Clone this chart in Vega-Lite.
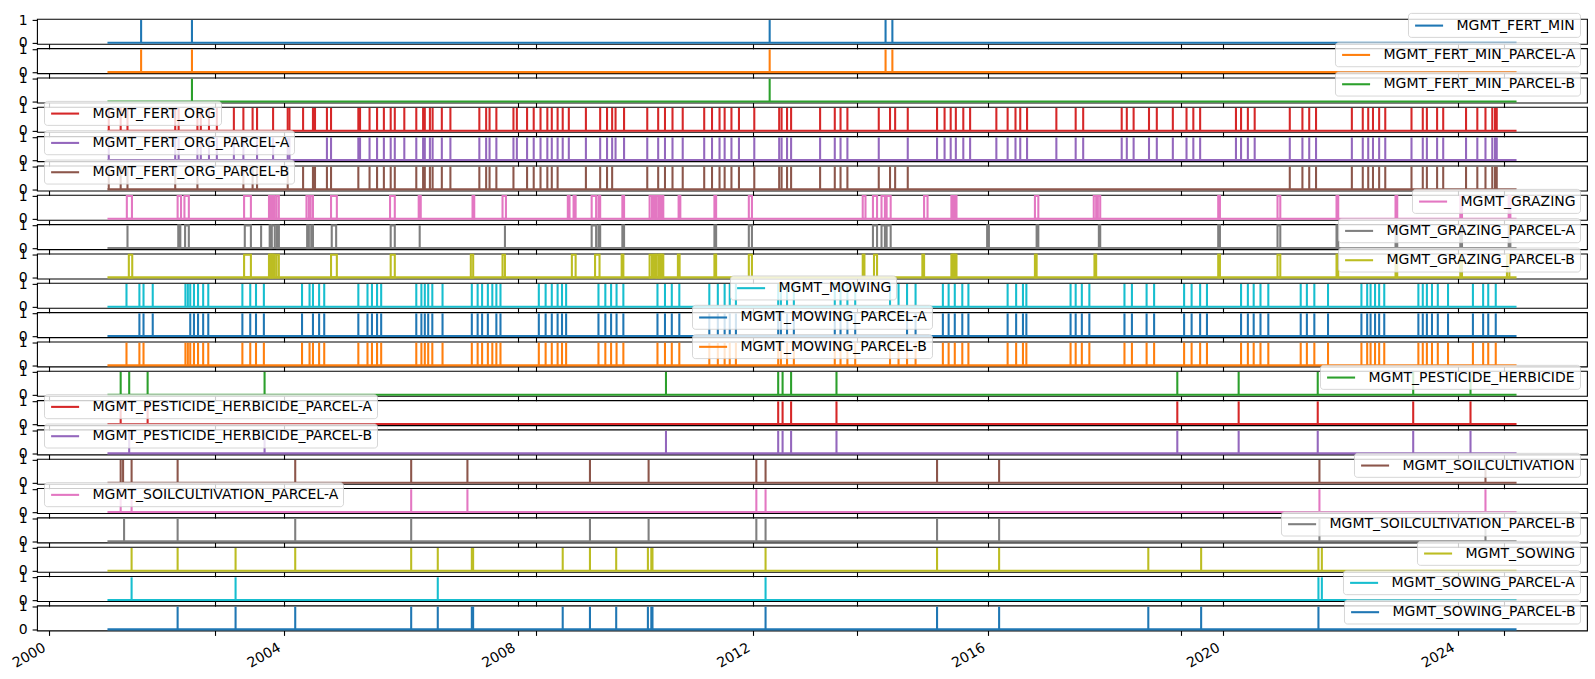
{
"$schema":"https://vega.github.io/schema/vega-lite/v6.json",
"background":"white",
"padding":{"left":9,"top":10.9,"right":8,"bottom":4},
"config":{"font":"DejaVu Sans","view":{"stroke":"black","strokeWidth":1.1},
"axis":{"domain":false,"grid":false,"tickColor":"black","tickWidth":1.1,"tickSize":4.9,"labelFont":"DejaVu Sans","labelFontSize":14,"labelColor":"black","labelPadding":4.9,"labelFlush":false,"labelOverlap":false,"labelBound":false},
"legend":{"symbolType":"M-2,0H2","symbolStrokeWidth":2.08,"symbolSize":196,"symbolOffset":8.4,"labelFont":"DejaVu Sans","labelFontSize":14,"labelColor":"black","labelLimit":0,"labelOffset":18.9,"padding":4.2,"fillColor":"rgba(255,255,255,0.8)","strokeColor":"rgba(204,204,204,0.8)","cornerRadius":3,"offset":7.4}},
"datasets":{
"d01":[{"t":2001.573},{"t":2002.439},{"t":2012.279},{"t":2014.253},{"t":2014.369}],
"d02":[{"t":2001.573},{"t":2002.439},{"t":2012.279},{"t":2014.253},{"t":2014.369}],
"d03":[{"t":2002.439},{"t":2012.279}],
"d04":[{"t":2001.022},{"t":2001.225},{"t":2001.341},{"t":2002.154},{"t":2002.212},{"t":2002.532},{"t":2002.590},{"t":2002.729},{"t":2002.863},{"t":2003.153},{"t":2003.315},{"t":2003.472},{"t":2003.548},{"t":2003.821},{"t":2004.070},{"t":2004.100},{"t":2004.332},{"t":2004.500},{"t":2004.535},{"t":2004.738},{"t":2004.808},{"t":2005.273},{"t":2005.302},{"t":2005.464},{"t":2005.592},{"t":2005.708},{"t":2005.824},{"t":2005.894},{"t":2006.056},{"t":2006.260},{"t":2006.376},{"t":2006.405},{"t":2006.492},{"t":2006.538},{"t":2006.695},{"t":2006.841},{"t":2007.334},{"t":2007.450},{"t":2007.508},{"t":2007.624},{"t":2007.915},{"t":2007.973},{"t":2008.147},{"t":2008.260},{"t":2008.376},{"t":2008.492},{"t":2008.568},{"t":2008.667},{"t":2008.754},{"t":2008.858},{"t":2009.149},{"t":2009.392},{"t":2009.509},{"t":2009.596},{"t":2009.654},{"t":2009.799},{"t":2010.194},{"t":2010.380},{"t":2010.496},{"t":2010.624},{"t":2010.798},{"t":2011.164},{"t":2011.297},{"t":2011.425},{"t":2011.512},{"t":2011.628},{"t":2011.756},{"t":2012.017},{"t":2012.441},{"t":2012.482},{"t":2012.575},{"t":2012.644},{"t":2013.138},{"t":2013.388},{"t":2013.486},{"t":2013.603},{"t":2014.137},{"t":2014.329},{"t":2014.416},{"t":2014.631},{"t":2015.130},{"t":2015.258},{"t":2015.362},{"t":2015.450},{"t":2015.577},{"t":2015.693},{"t":2016.140},{"t":2016.332},{"t":2016.466},{"t":2016.547},{"t":2016.663},{"t":2017.162},{"t":2017.491},{"t":2017.619},{"t":2018.275},{"t":2018.362},{"t":2018.478},{"t":2018.740},{"t":2018.873},{"t":2019.146},{"t":2019.379},{"t":2019.495},{"t":2019.611},{"t":2020.221},{"t":2020.308},{"t":2020.424},{"t":2020.540},{"t":2021.138},{"t":2021.353},{"t":2021.469},{"t":2021.585},{"t":2022.195},{"t":2022.381},{"t":2022.474},{"t":2022.555},{"t":2022.660},{"t":2022.764},{"t":2023.211},{"t":2023.403},{"t":2023.473},{"t":2023.647},{"t":2023.751},{"t":2024.140},{"t":2024.332},{"t":2024.471},{"t":2024.587},{"t":2024.634},{"t":2024.663}],
"d05":[{"t":2001.022},{"t":2002.154},{"t":2002.212},{"t":2002.532},{"t":2002.590},{"t":2002.729},{"t":2002.863},{"t":2003.153},{"t":2003.315},{"t":2003.548},{"t":2003.821},{"t":2004.070},{"t":2004.100},{"t":2004.738},{"t":2004.808},{"t":2005.273},{"t":2005.302},{"t":2005.464},{"t":2005.592},{"t":2005.708},{"t":2005.824},{"t":2005.894},{"t":2006.056},{"t":2006.260},{"t":2006.376},{"t":2006.405},{"t":2006.492},{"t":2006.538},{"t":2006.695},{"t":2006.841},{"t":2007.334},{"t":2007.450},{"t":2007.508},{"t":2007.624},{"t":2007.915},{"t":2007.973},{"t":2008.147},{"t":2008.260},{"t":2008.376},{"t":2008.492},{"t":2008.568},{"t":2008.667},{"t":2008.754},{"t":2008.858},{"t":2009.149},{"t":2009.392},{"t":2009.509},{"t":2009.596},{"t":2009.654},{"t":2009.799},{"t":2010.194},{"t":2010.380},{"t":2010.496},{"t":2010.624},{"t":2010.798},{"t":2011.164},{"t":2011.297},{"t":2011.425},{"t":2011.512},{"t":2011.628},{"t":2011.756},{"t":2012.017},{"t":2012.441},{"t":2012.482},{"t":2012.575},{"t":2012.644},{"t":2013.138},{"t":2013.388},{"t":2013.486},{"t":2013.603},{"t":2014.137},{"t":2014.631},{"t":2015.130},{"t":2015.258},{"t":2015.362},{"t":2015.450},{"t":2015.577},{"t":2015.693},{"t":2016.140},{"t":2016.332},{"t":2016.466},{"t":2016.547},{"t":2016.663},{"t":2017.162},{"t":2017.491},{"t":2017.619},{"t":2018.275},{"t":2018.362},{"t":2018.478},{"t":2018.740},{"t":2018.873},{"t":2019.146},{"t":2019.379},{"t":2019.495},{"t":2019.611},{"t":2020.221},{"t":2020.308},{"t":2020.424},{"t":2020.540},{"t":2021.138},{"t":2021.353},{"t":2021.469},{"t":2021.585},{"t":2022.195},{"t":2022.381},{"t":2022.474},{"t":2022.555},{"t":2022.660},{"t":2022.764},{"t":2023.211},{"t":2023.403},{"t":2023.473},{"t":2023.647},{"t":2023.751},{"t":2024.140},{"t":2024.332},{"t":2024.471},{"t":2024.587},{"t":2024.634},{"t":2024.663}],
"d06":[{"t":2001.022},{"t":2001.225},{"t":2001.341},{"t":2002.154},{"t":2002.532},{"t":2003.315},{"t":2003.472},{"t":2003.548},{"t":2004.070},{"t":2004.332},{"t":2004.500},{"t":2004.535},{"t":2004.738},{"t":2004.808},{"t":2005.273},{"t":2005.464},{"t":2005.592},{"t":2005.708},{"t":2005.824},{"t":2005.894},{"t":2006.260},{"t":2006.376},{"t":2006.405},{"t":2006.492},{"t":2006.538},{"t":2006.695},{"t":2006.841},{"t":2007.334},{"t":2007.450},{"t":2007.508},{"t":2007.624},{"t":2007.915},{"t":2008.147},{"t":2008.260},{"t":2008.376},{"t":2008.492},{"t":2008.568},{"t":2008.667},{"t":2009.149},{"t":2009.392},{"t":2009.509},{"t":2009.596},{"t":2010.194},{"t":2010.380},{"t":2010.496},{"t":2010.624},{"t":2010.798},{"t":2011.164},{"t":2011.297},{"t":2011.425},{"t":2011.512},{"t":2011.628},{"t":2011.756},{"t":2012.017},{"t":2012.441},{"t":2012.482},{"t":2012.575},{"t":2012.644},{"t":2013.138},{"t":2013.388},{"t":2013.486},{"t":2013.603},{"t":2014.137},{"t":2014.329},{"t":2014.416},{"t":2014.631},{"t":2021.138},{"t":2021.353},{"t":2021.469},{"t":2021.585},{"t":2022.195},{"t":2022.381},{"t":2022.474},{"t":2022.555},{"t":2022.660},{"t":2022.764},{"t":2023.211},{"t":2023.403},{"t":2023.473},{"t":2023.647},{"t":2023.751},{"t":2024.140},{"t":2024.332},{"t":2024.471},{"t":2024.587},{"t":2024.634},{"t":2024.663}],
"d07":[{"t":2001.330,"e":2001.417},{"t":2002.195,"e":2002.253},{"t":2002.311,"e":2002.386},{"t":2003.327,"e":2003.443},{"t":2003.751,"e":2003.775},{"t":2003.782,"e":2003.810},{"t":2003.818,"e":2003.850},{"t":2003.879,"e":2003.919},{"t":2004.390,"e":2004.431},{"t":2004.460,"e":2004.500},{"t":2004.808,"e":2004.907},{"t":2005.813,"e":2005.894},{"t":2006.301,"e":2006.336},{"t":2007.218,"e":2007.247},{"t":2007.729,"e":2007.787},{"t":2008.841,"e":2008.870},{"t":2008.939,"e":2008.974},{"t":2009.247,"e":2009.323},{"t":2009.363,"e":2009.392},{"t":2009.770,"e":2009.799},{"t":2010.234,"e":2010.275},{"t":2010.310,"e":2010.345},{"t":2010.352,"e":2010.390},{"t":2010.398,"e":2010.430},{"t":2010.438,"e":2010.467},{"t":2010.728,"e":2010.757},{"t":2011.338,"e":2011.367},{"t":2011.924,"e":2011.977},{"t":2013.864,"e":2013.911},{"t":2014.038,"e":2014.108},{"t":2014.184,"e":2014.242},{"t":2014.271,"e":2014.340},{"t":2014.909,"e":2014.968},{"t":2015.374,"e":2015.400},{"t":2015.408,"e":2015.435},{"t":2015.442,"e":2015.461},{"t":2016.797,"e":2016.855},{"t":2017.799,"e":2017.840},{"t":2017.869,"e":2017.909},{"t":2019.919,"e":2019.948},{"t":2020.929,"e":2020.976},{"t":2021.934,"e":2021.963},{"t":2022.939,"e":2022.968},{"t":2024.042,"e":2024.071},{"t":2024.866,"e":2024.895}],
"d08":[{"t":2001.341,"e":2001.341},{"t":2002.206,"e":2002.241},{"t":2002.322,"e":2002.386},{"t":2003.339,"e":2003.443},{"t":2003.617,"e":2003.617},{"t":2003.763,"e":2003.790},{"t":2003.798,"e":2003.850},{"t":2003.885,"e":2003.920},{"t":2004.401,"e":2004.430},{"t":2004.471,"e":2004.500},{"t":2004.820,"e":2004.895},{"t":2005.824,"e":2005.894},{"t":2006.318,"e":2006.318},{"t":2007.770,"e":2007.770},{"t":2009.247,"e":2009.323},{"t":2009.363,"e":2009.392},{"t":2009.770,"e":2009.799},{"t":2011.338,"e":2011.367},{"t":2011.924,"e":2011.977},{"t":2014.038,"e":2014.108},{"t":2014.184,"e":2014.242},{"t":2014.271,"e":2014.340},{"t":2015.983,"e":2016.013},{"t":2016.826,"e":2016.855},{"t":2017.886,"e":2017.909},{"t":2019.919,"e":2019.948},{"t":2020.929,"e":2020.976},{"t":2021.934,"e":2021.963},{"t":2022.939,"e":2022.968},{"t":2024.042,"e":2024.071},{"t":2024.866,"e":2024.895}],
"d09":[{"t":2001.364,"e":2001.422},{"t":2003.327,"e":2003.443},{"t":2003.751,"e":2003.775},{"t":2003.782,"e":2003.810},{"t":2003.818,"e":2003.850},{"t":2003.879,"e":2003.919},{"t":2004.808,"e":2004.907},{"t":2005.824,"e":2005.894},{"t":2007.189,"e":2007.229},{"t":2007.729,"e":2007.770},{"t":2008.910,"e":2008.974},{"t":2009.305,"e":2009.381},{"t":2009.758,"e":2009.787},{"t":2010.234,"e":2010.275},{"t":2010.310,"e":2010.345},{"t":2010.352,"e":2010.390},{"t":2010.398,"e":2010.430},{"t":2010.438,"e":2010.467},{"t":2010.716,"e":2010.745},{"t":2011.338,"e":2011.367},{"t":2011.924,"e":2011.977},{"t":2013.864,"e":2013.893},{"t":2014.056,"e":2014.108},{"t":2014.880,"e":2014.909},{"t":2015.374,"e":2015.400},{"t":2015.408,"e":2015.435},{"t":2015.442,"e":2015.461},{"t":2016.797,"e":2016.826},{"t":2017.811,"e":2017.840},{"t":2019.919,"e":2019.948},{"t":2020.929,"e":2020.976},{"t":2021.934,"e":2021.963},{"t":2022.939,"e":2022.968},{"t":2024.042,"e":2024.071},{"t":2024.837,"e":2024.878}],
"d10":[{"t":2001.324},{"t":2001.544},{"t":2001.614},{"t":2001.771},{"t":2002.328},{"t":2002.369},{"t":2002.410},{"t":2002.473},{"t":2002.543},{"t":2002.630},{"t":2002.717},{"t":2003.298},{"t":2003.432},{"t":2003.530},{"t":2003.664},{"t":2004.314},{"t":2004.442},{"t":2004.500},{"t":2004.605},{"t":2004.692},{"t":2005.273},{"t":2005.429},{"t":2005.505},{"t":2005.592},{"t":2005.662},{"t":2006.260},{"t":2006.347},{"t":2006.405},{"t":2006.463},{"t":2006.533},{"t":2006.707},{"t":2007.206},{"t":2007.305},{"t":2007.381},{"t":2007.479},{"t":2007.555},{"t":2007.624},{"t":2007.694},{"t":2008.347},{"t":2008.463},{"t":2008.568},{"t":2008.667},{"t":2008.742},{"t":2008.812},{"t":2009.363},{"t":2009.480},{"t":2009.578},{"t":2009.671},{"t":2009.787},{"t":2010.368},{"t":2010.496},{"t":2010.612},{"t":2010.740},{"t":2011.251},{"t":2011.396},{"t":2011.512},{"t":2011.599},{"t":2011.704},{"t":2012.424},{"t":2012.470},{"t":2012.575},{"t":2012.691},{"t":2013.388},{"t":2013.486},{"t":2013.603},{"t":2013.736},{"t":2014.329},{"t":2014.474},{"t":2014.619},{"t":2014.764},{"t":2015.229},{"t":2015.327},{"t":2015.432},{"t":2015.560},{"t":2015.664},{"t":2016.332},{"t":2016.477},{"t":2016.593},{"t":2016.651},{"t":2017.404},{"t":2017.491},{"t":2017.596},{"t":2017.724},{"t":2018.322},{"t":2018.449},{"t":2018.699},{"t":2018.827},{"t":2019.338},{"t":2019.466},{"t":2019.611},{"t":2019.727},{"t":2020.308},{"t":2020.424},{"t":2020.523},{"t":2020.639},{"t":2020.772},{"t":2021.324},{"t":2021.429},{"t":2021.556},{"t":2021.789},{"t":2022.358},{"t":2022.456},{"t":2022.514},{"t":2022.590},{"t":2022.660},{"t":2022.747},{"t":2023.328},{"t":2023.403},{"t":2023.473},{"t":2023.560},{"t":2023.659},{"t":2023.833},{"t":2024.257},{"t":2024.431},{"t":2024.518},{"t":2024.646}],
"d11":[{"t":2001.544},{"t":2001.614},{"t":2001.771},{"t":2002.410},{"t":2002.473},{"t":2002.543},{"t":2002.630},{"t":2002.717},{"t":2003.298},{"t":2003.432},{"t":2003.530},{"t":2003.664},{"t":2004.314},{"t":2004.500},{"t":2004.605},{"t":2004.692},{"t":2005.273},{"t":2005.429},{"t":2005.505},{"t":2005.592},{"t":2005.662},{"t":2006.260},{"t":2006.347},{"t":2006.405},{"t":2006.463},{"t":2006.533},{"t":2006.707},{"t":2007.206},{"t":2007.305},{"t":2007.381},{"t":2007.479},{"t":2007.624},{"t":2007.694},{"t":2008.347},{"t":2008.463},{"t":2008.568},{"t":2008.667},{"t":2008.742},{"t":2008.812},{"t":2009.363},{"t":2009.480},{"t":2009.578},{"t":2009.671},{"t":2009.787},{"t":2010.368},{"t":2010.496},{"t":2010.612},{"t":2010.740},{"t":2011.251},{"t":2011.396},{"t":2011.512},{"t":2011.599},{"t":2011.704},{"t":2012.424},{"t":2012.470},{"t":2012.575},{"t":2012.691},{"t":2013.388},{"t":2013.486},{"t":2013.603},{"t":2013.736},{"t":2014.619},{"t":2014.764},{"t":2015.229},{"t":2015.327},{"t":2015.432},{"t":2015.560},{"t":2015.664},{"t":2016.332},{"t":2016.477},{"t":2016.593},{"t":2016.651},{"t":2017.404},{"t":2017.491},{"t":2017.596},{"t":2017.724},{"t":2018.322},{"t":2018.449},{"t":2018.699},{"t":2018.827},{"t":2019.338},{"t":2019.466},{"t":2019.611},{"t":2019.727},{"t":2020.308},{"t":2020.424},{"t":2020.523},{"t":2020.639},{"t":2020.772},{"t":2021.324},{"t":2021.429},{"t":2021.556},{"t":2021.789},{"t":2022.358},{"t":2022.456},{"t":2022.514},{"t":2022.590},{"t":2022.660},{"t":2022.747},{"t":2023.328},{"t":2023.403},{"t":2023.473},{"t":2023.560},{"t":2023.659},{"t":2023.833},{"t":2024.257},{"t":2024.431},{"t":2024.518},{"t":2024.646}],
"d12":[{"t":2001.324},{"t":2001.544},{"t":2001.614},{"t":2002.328},{"t":2002.369},{"t":2002.410},{"t":2002.473},{"t":2002.543},{"t":2002.630},{"t":2002.717},{"t":2003.298},{"t":2003.432},{"t":2003.530},{"t":2003.664},{"t":2004.314},{"t":2004.442},{"t":2004.500},{"t":2004.605},{"t":2004.692},{"t":2005.273},{"t":2005.429},{"t":2005.505},{"t":2005.592},{"t":2005.662},{"t":2006.260},{"t":2006.347},{"t":2006.405},{"t":2006.463},{"t":2006.533},{"t":2006.707},{"t":2007.206},{"t":2007.305},{"t":2007.381},{"t":2007.479},{"t":2007.555},{"t":2007.624},{"t":2007.694},{"t":2008.347},{"t":2008.463},{"t":2008.568},{"t":2008.667},{"t":2008.742},{"t":2008.812},{"t":2009.363},{"t":2009.480},{"t":2009.578},{"t":2009.671},{"t":2009.787},{"t":2010.368},{"t":2010.496},{"t":2010.612},{"t":2010.740},{"t":2011.251},{"t":2011.396},{"t":2011.512},{"t":2011.599},{"t":2011.704},{"t":2012.424},{"t":2012.470},{"t":2012.575},{"t":2012.691},{"t":2013.388},{"t":2013.486},{"t":2013.603},{"t":2013.736},{"t":2014.329},{"t":2014.474},{"t":2014.619},{"t":2014.764},{"t":2015.229},{"t":2015.327},{"t":2015.432},{"t":2015.560},{"t":2015.664},{"t":2016.332},{"t":2016.477},{"t":2016.593},{"t":2016.651},{"t":2017.404},{"t":2017.491},{"t":2017.596},{"t":2017.724},{"t":2018.322},{"t":2018.449},{"t":2018.699},{"t":2018.827},{"t":2019.338},{"t":2019.466},{"t":2019.611},{"t":2019.727},{"t":2020.308},{"t":2020.424},{"t":2020.523},{"t":2020.639},{"t":2020.772},{"t":2021.324},{"t":2021.429},{"t":2021.556},{"t":2021.789},{"t":2022.358},{"t":2022.456},{"t":2022.514},{"t":2022.590},{"t":2022.660},{"t":2022.747},{"t":2023.328},{"t":2023.403},{"t":2023.473},{"t":2023.560},{"t":2023.659},{"t":2023.833},{"t":2024.257},{"t":2024.431},{"t":2024.518},{"t":2024.646}],
"d13":[{"t":2001.225},{"t":2001.370},{"t":2001.684},{"t":2003.676},{"t":2010.513},{"t":2012.424},{"t":2012.499},{"t":2012.644},{"t":2013.417},{"t":2019.222},{"t":2020.267},{"t":2021.614},{"t":2023.240},{"t":2024.216}],
"d14":[{"t":2001.225},{"t":2001.684},{"t":2012.424},{"t":2012.499},{"t":2012.644},{"t":2013.417},{"t":2019.222},{"t":2020.267},{"t":2021.614},{"t":2023.240},{"t":2024.216}],
"d15":[{"t":2001.370},{"t":2003.676},{"t":2010.513},{"t":2012.424},{"t":2012.499},{"t":2012.644},{"t":2013.417},{"t":2019.222},{"t":2020.267},{"t":2021.614},{"t":2023.240},{"t":2024.216}],
"d16":[{"t":2001.225},{"t":2001.266},{"t":2001.411},{"t":2002.195},{"t":2004.198},{"t":2006.173},{"t":2007.131},{"t":2009.218},{"t":2010.217},{"t":2012.052},{"t":2012.209},{"t":2015.130},{"t":2016.187},{"t":2021.643},{"t":2024.471}],
"d17":[{"t":2001.225},{"t":2001.411},{"t":2006.173},{"t":2007.131},{"t":2012.052},{"t":2012.209},{"t":2021.643},{"t":2024.471}],
"d18":[{"t":2001.283},{"t":2002.195},{"t":2004.198},{"t":2006.173},{"t":2009.218},{"t":2010.217},{"t":2012.052},{"t":2012.209},{"t":2015.130},{"t":2016.187},{"t":2021.643},{"t":2024.471}],
"d19":[{"t":2001.411},{"t":2002.195},{"t":2003.182},{"t":2004.198},{"t":2006.173},{"t":2006.626},{"t":2007.206},{"t":2007.228},{"t":2008.754},{"t":2009.218},{"t":2009.665},{"t":2010.205},{"t":2010.263},{"t":2010.283},{"t":2012.209},{"t":2015.130},{"t":2016.187},{"t":2018.728},{"t":2019.628},{"t":2021.626},{"t":2021.684}],
"d20":[{"t":2001.411},{"t":2003.182},{"t":2006.626},{"t":2012.209},{"t":2021.626},{"t":2021.684}],
"d21":[{"t":2002.195},{"t":2003.182},{"t":2004.198},{"t":2006.173},{"t":2006.626},{"t":2007.206},{"t":2007.228},{"t":2008.754},{"t":2009.218},{"t":2009.665},{"t":2010.205},{"t":2010.263},{"t":2010.283},{"t":2012.209},{"t":2015.130},{"t":2016.187},{"t":2018.728},{"t":2019.628},{"t":2021.626}]
},
"spacing":4.33,
"bounds":"flush",
"resolve":{"scale":{"color":"independent"},"legend":{"color":"independent"}},
"vconcat":[
{"width":1550,"height":25,"layer":[{"data":{"values":[{"t":2001,"e":2025}]},"mark":{"type":"rule","strokeWidth":2.08},"encoding":{"x":{"field":"t","type":"quantitative","scale":{"domain":[1999.8,2026.2],"nice":false,"zero":false},"axis":{"values":[2000,2002.834,2004,2008,2008.3,2012,2013.765,2016,2019.291,2020,2024,2024.779],"labels":false,"title":null,"encode":{"ticks":{"update":{"y2":{"signal":"datum.value % 4 === 0 ? 4.9 : 2.8"}}}}}},"x2":{"field":"e"},"y":{"datum":0,"type":"quantitative","scale":{"domain":[-0.05,1.05],"nice":false,"zero":false},"axis":{"values":[0,1],"format":"d","title":null}},"color":{"datum":"MGMT_FERT_MIN","scale":{"range":["#1f77b4"]},"legend":{"orient":"bottom-right","title":null}}}},{"data":{"name":"d01"},"mark":{"type":"rule","strokeWidth":2.08},"encoding":{"x":{"field":"t","type":"quantitative"},"y":{"datum":0,"type":"quantitative"},"y2":{"datum":1},"color":{"datum":"MGMT_FERT_MIN"}}}]},
{"width":1550,"height":25,"layer":[{"data":{"values":[{"t":2001,"e":2025}]},"mark":{"type":"rule","strokeWidth":2.08},"encoding":{"x":{"field":"t","type":"quantitative","scale":{"domain":[1999.8,2026.2],"nice":false,"zero":false},"axis":{"values":[2000,2002.834,2004,2008,2008.3,2012,2013.765,2016,2019.291,2020,2024,2024.779],"labels":false,"title":null,"encode":{"ticks":{"update":{"y2":{"signal":"datum.value % 4 === 0 ? 4.9 : 2.8"}}}}}},"x2":{"field":"e"},"y":{"datum":0,"type":"quantitative","scale":{"domain":[-0.05,1.05],"nice":false,"zero":false},"axis":{"values":[0,1],"format":"d","title":null}},"color":{"datum":"MGMT_FERT_MIN_PARCEL-A","scale":{"range":["#ff7f0e"]},"legend":{"orient":"bottom-right","title":null}}}},{"data":{"name":"d02"},"mark":{"type":"rule","strokeWidth":2.08},"encoding":{"x":{"field":"t","type":"quantitative"},"y":{"datum":0,"type":"quantitative"},"y2":{"datum":1},"color":{"datum":"MGMT_FERT_MIN_PARCEL-A"}}}]},
{"width":1550,"height":25,"layer":[{"data":{"values":[{"t":2001,"e":2025}]},"mark":{"type":"rule","strokeWidth":2.08},"encoding":{"x":{"field":"t","type":"quantitative","scale":{"domain":[1999.8,2026.2],"nice":false,"zero":false},"axis":{"values":[2000,2002.834,2004,2008,2008.3,2012,2013.765,2016,2019.291,2020,2024,2024.779],"labels":false,"title":null,"encode":{"ticks":{"update":{"y2":{"signal":"datum.value % 4 === 0 ? 4.9 : 2.8"}}}}}},"x2":{"field":"e"},"y":{"datum":0,"type":"quantitative","scale":{"domain":[-0.05,1.05],"nice":false,"zero":false},"axis":{"values":[0,1],"format":"d","title":null}},"color":{"datum":"MGMT_FERT_MIN_PARCEL-B","scale":{"range":["#2ca02c"]},"legend":{"orient":"bottom-right","title":null}}}},{"data":{"name":"d03"},"mark":{"type":"rule","strokeWidth":2.08},"encoding":{"x":{"field":"t","type":"quantitative"},"y":{"datum":0,"type":"quantitative"},"y2":{"datum":1},"color":{"datum":"MGMT_FERT_MIN_PARCEL-B"}}}]},
{"width":1550,"height":25,"layer":[{"data":{"values":[{"t":2001,"e":2025}]},"mark":{"type":"rule","strokeWidth":2.08},"encoding":{"x":{"field":"t","type":"quantitative","scale":{"domain":[1999.8,2026.2],"nice":false,"zero":false},"axis":{"values":[2000,2002.834,2004,2008,2008.3,2012,2013.765,2016,2019.291,2020,2024,2024.779],"labels":false,"title":null,"encode":{"ticks":{"update":{"y2":{"signal":"datum.value % 4 === 0 ? 4.9 : 2.8"}}}}}},"x2":{"field":"e"},"y":{"datum":0,"type":"quantitative","scale":{"domain":[-0.05,1.05],"nice":false,"zero":false},"axis":{"values":[0,1],"format":"d","title":null}},"color":{"datum":"MGMT_FERT_ORG","scale":{"range":["#d62728"]},"legend":{"orient":"bottom-left","title":null}}}},{"data":{"name":"d04"},"mark":{"type":"rule","strokeWidth":2.08},"encoding":{"x":{"field":"t","type":"quantitative"},"y":{"datum":0,"type":"quantitative"},"y2":{"datum":1},"color":{"datum":"MGMT_FERT_ORG"}}}]},
{"width":1550,"height":25,"layer":[{"data":{"values":[{"t":2001,"e":2025}]},"mark":{"type":"rule","strokeWidth":2.08},"encoding":{"x":{"field":"t","type":"quantitative","scale":{"domain":[1999.8,2026.2],"nice":false,"zero":false},"axis":{"values":[2000,2002.834,2004,2008,2008.3,2012,2013.765,2016,2019.291,2020,2024,2024.779],"labels":false,"title":null,"encode":{"ticks":{"update":{"y2":{"signal":"datum.value % 4 === 0 ? 4.9 : 2.8"}}}}}},"x2":{"field":"e"},"y":{"datum":0,"type":"quantitative","scale":{"domain":[-0.05,1.05],"nice":false,"zero":false},"axis":{"values":[0,1],"format":"d","title":null}},"color":{"datum":"MGMT_FERT_ORG_PARCEL-A","scale":{"range":["#9467bd"]},"legend":{"orient":"bottom-left","title":null}}}},{"data":{"name":"d05"},"mark":{"type":"rule","strokeWidth":2.08},"encoding":{"x":{"field":"t","type":"quantitative"},"y":{"datum":0,"type":"quantitative"},"y2":{"datum":1},"color":{"datum":"MGMT_FERT_ORG_PARCEL-A"}}}]},
{"width":1550,"height":25,"layer":[{"data":{"values":[{"t":2001,"e":2025}]},"mark":{"type":"rule","strokeWidth":2.08},"encoding":{"x":{"field":"t","type":"quantitative","scale":{"domain":[1999.8,2026.2],"nice":false,"zero":false},"axis":{"values":[2000,2002.834,2004,2008,2008.3,2012,2013.765,2016,2019.291,2020,2024,2024.779],"labels":false,"title":null,"encode":{"ticks":{"update":{"y2":{"signal":"datum.value % 4 === 0 ? 4.9 : 2.8"}}}}}},"x2":{"field":"e"},"y":{"datum":0,"type":"quantitative","scale":{"domain":[-0.05,1.05],"nice":false,"zero":false},"axis":{"values":[0,1],"format":"d","title":null}},"color":{"datum":"MGMT_FERT_ORG_PARCEL-B","scale":{"range":["#8c564b"]},"legend":{"orient":"bottom-left","title":null}}}},{"data":{"name":"d06"},"mark":{"type":"rule","strokeWidth":2.08},"encoding":{"x":{"field":"t","type":"quantitative"},"y":{"datum":0,"type":"quantitative"},"y2":{"datum":1},"color":{"datum":"MGMT_FERT_ORG_PARCEL-B"}}}]},
{"width":1550,"height":25,"layer":[{"data":{"values":[{"t":2001,"e":2025}]},"mark":{"type":"rule","strokeWidth":2.08},"encoding":{"x":{"field":"t","type":"quantitative","scale":{"domain":[1999.8,2026.2],"nice":false,"zero":false},"axis":{"values":[2000,2002.834,2004,2008,2008.3,2012,2013.765,2016,2019.291,2020,2024,2024.779],"labels":false,"title":null,"encode":{"ticks":{"update":{"y2":{"signal":"datum.value % 4 === 0 ? 4.9 : 2.8"}}}}}},"x2":{"field":"e"},"y":{"datum":0,"type":"quantitative","scale":{"domain":[-0.05,1.05],"nice":false,"zero":false},"axis":{"values":[0,1],"format":"d","title":null}},"color":{"datum":"MGMT_GRAZING","scale":{"range":["#e377c2"]},"legend":{"orient":"bottom-right","title":null}}}},{"data":{"name":"d07"},"mark":{"type":"rect","filled":false,"strokeWidth":2.08},"encoding":{"x":{"field":"t","type":"quantitative"},"x2":{"field":"e"},"y":{"datum":0,"type":"quantitative"},"y2":{"datum":1},"color":{"datum":"MGMT_GRAZING"}}}]},
{"width":1550,"height":25,"layer":[{"data":{"values":[{"t":2001,"e":2025}]},"mark":{"type":"rule","strokeWidth":2.08},"encoding":{"x":{"field":"t","type":"quantitative","scale":{"domain":[1999.8,2026.2],"nice":false,"zero":false},"axis":{"values":[2000,2002.834,2004,2008,2008.3,2012,2013.765,2016,2019.291,2020,2024,2024.779],"labels":false,"title":null,"encode":{"ticks":{"update":{"y2":{"signal":"datum.value % 4 === 0 ? 4.9 : 2.8"}}}}}},"x2":{"field":"e"},"y":{"datum":0,"type":"quantitative","scale":{"domain":[-0.05,1.05],"nice":false,"zero":false},"axis":{"values":[0,1],"format":"d","title":null}},"color":{"datum":"MGMT_GRAZING_PARCEL-A","scale":{"range":["#7f7f7f"]},"legend":{"orient":"bottom-right","title":null}}}},{"data":{"name":"d08"},"mark":{"type":"rect","filled":false,"strokeWidth":2.08},"encoding":{"x":{"field":"t","type":"quantitative"},"x2":{"field":"e"},"y":{"datum":0,"type":"quantitative"},"y2":{"datum":1},"color":{"datum":"MGMT_GRAZING_PARCEL-A"}}}]},
{"width":1550,"height":25,"layer":[{"data":{"values":[{"t":2001,"e":2025}]},"mark":{"type":"rule","strokeWidth":2.08},"encoding":{"x":{"field":"t","type":"quantitative","scale":{"domain":[1999.8,2026.2],"nice":false,"zero":false},"axis":{"values":[2000,2002.834,2004,2008,2008.3,2012,2013.765,2016,2019.291,2020,2024,2024.779],"labels":false,"title":null,"encode":{"ticks":{"update":{"y2":{"signal":"datum.value % 4 === 0 ? 4.9 : 2.8"}}}}}},"x2":{"field":"e"},"y":{"datum":0,"type":"quantitative","scale":{"domain":[-0.05,1.05],"nice":false,"zero":false},"axis":{"values":[0,1],"format":"d","title":null}},"color":{"datum":"MGMT_GRAZING_PARCEL-B","scale":{"range":["#bcbd22"]},"legend":{"orient":"bottom-right","title":null}}}},{"data":{"name":"d09"},"mark":{"type":"rect","filled":false,"strokeWidth":2.08},"encoding":{"x":{"field":"t","type":"quantitative"},"x2":{"field":"e"},"y":{"datum":0,"type":"quantitative"},"y2":{"datum":1},"color":{"datum":"MGMT_GRAZING_PARCEL-B"}}}]},
{"width":1550,"height":25,"layer":[{"data":{"values":[{"t":2001,"e":2025}]},"mark":{"type":"rule","strokeWidth":2.08},"encoding":{"x":{"field":"t","type":"quantitative","scale":{"domain":[1999.8,2026.2],"nice":false,"zero":false},"axis":{"values":[2000,2002.834,2004,2008,2008.3,2012,2013.765,2016,2019.291,2020,2024,2024.779],"labels":false,"title":null,"encode":{"ticks":{"update":{"y2":{"signal":"datum.value % 4 === 0 ? 4.9 : 2.8"}}}}}},"x2":{"field":"e"},"y":{"datum":0,"type":"quantitative","scale":{"domain":[-0.05,1.05],"nice":false,"zero":false},"axis":{"values":[0,1],"format":"d","title":null}},"color":{"datum":"MGMT_MOWING","scale":{"range":["#17becf"]},"legend":{"orient":"none","legendX":693,"legendY":-7.4,"title":null}}}},{"data":{"name":"d10"},"mark":{"type":"rule","strokeWidth":2.08},"encoding":{"x":{"field":"t","type":"quantitative"},"y":{"datum":0,"type":"quantitative"},"y2":{"datum":1},"color":{"datum":"MGMT_MOWING"}}}]},
{"width":1550,"height":25,"layer":[{"data":{"values":[{"t":2001,"e":2025}]},"mark":{"type":"rule","strokeWidth":2.08},"encoding":{"x":{"field":"t","type":"quantitative","scale":{"domain":[1999.8,2026.2],"nice":false,"zero":false},"axis":{"values":[2000,2002.834,2004,2008,2008.3,2012,2013.765,2016,2019.291,2020,2024,2024.779],"labels":false,"title":null,"encode":{"ticks":{"update":{"y2":{"signal":"datum.value % 4 === 0 ? 4.9 : 2.8"}}}}}},"x2":{"field":"e"},"y":{"datum":0,"type":"quantitative","scale":{"domain":[-0.05,1.05],"nice":false,"zero":false},"axis":{"values":[0,1],"format":"d","title":null}},"color":{"datum":"MGMT_MOWING_PARCEL-A","scale":{"range":["#1f77b4"]},"legend":{"orient":"none","legendX":655,"legendY":-7.4,"title":null}}}},{"data":{"name":"d11"},"mark":{"type":"rule","strokeWidth":2.08},"encoding":{"x":{"field":"t","type":"quantitative"},"y":{"datum":0,"type":"quantitative"},"y2":{"datum":1},"color":{"datum":"MGMT_MOWING_PARCEL-A"}}}]},
{"width":1550,"height":25,"layer":[{"data":{"values":[{"t":2001,"e":2025}]},"mark":{"type":"rule","strokeWidth":2.08},"encoding":{"x":{"field":"t","type":"quantitative","scale":{"domain":[1999.8,2026.2],"nice":false,"zero":false},"axis":{"values":[2000,2002.834,2004,2008,2008.3,2012,2013.765,2016,2019.291,2020,2024,2024.779],"labels":false,"title":null,"encode":{"ticks":{"update":{"y2":{"signal":"datum.value % 4 === 0 ? 4.9 : 2.8"}}}}}},"x2":{"field":"e"},"y":{"datum":0,"type":"quantitative","scale":{"domain":[-0.05,1.05],"nice":false,"zero":false},"axis":{"values":[0,1],"format":"d","title":null}},"color":{"datum":"MGMT_MOWING_PARCEL-B","scale":{"range":["#ff7f0e"]},"legend":{"orient":"none","legendX":655,"legendY":-7.4,"title":null}}}},{"data":{"name":"d12"},"mark":{"type":"rule","strokeWidth":2.08},"encoding":{"x":{"field":"t","type":"quantitative"},"y":{"datum":0,"type":"quantitative"},"y2":{"datum":1},"color":{"datum":"MGMT_MOWING_PARCEL-B"}}}]},
{"width":1550,"height":25,"layer":[{"data":{"values":[{"t":2001,"e":2025}]},"mark":{"type":"rule","strokeWidth":2.08},"encoding":{"x":{"field":"t","type":"quantitative","scale":{"domain":[1999.8,2026.2],"nice":false,"zero":false},"axis":{"values":[2000,2002.834,2004,2008,2008.3,2012,2013.765,2016,2019.291,2020,2024,2024.779],"labels":false,"title":null,"encode":{"ticks":{"update":{"y2":{"signal":"datum.value % 4 === 0 ? 4.9 : 2.8"}}}}}},"x2":{"field":"e"},"y":{"datum":0,"type":"quantitative","scale":{"domain":[-0.05,1.05],"nice":false,"zero":false},"axis":{"values":[0,1],"format":"d","title":null}},"color":{"datum":"MGMT_PESTICIDE_HERBICIDE","scale":{"range":["#2ca02c"]},"legend":{"orient":"bottom-right","title":null}}}},{"data":{"name":"d13"},"mark":{"type":"rule","strokeWidth":2.08},"encoding":{"x":{"field":"t","type":"quantitative"},"y":{"datum":0,"type":"quantitative"},"y2":{"datum":1},"color":{"datum":"MGMT_PESTICIDE_HERBICIDE"}}}]},
{"width":1550,"height":25,"layer":[{"data":{"values":[{"t":2001,"e":2025}]},"mark":{"type":"rule","strokeWidth":2.08},"encoding":{"x":{"field":"t","type":"quantitative","scale":{"domain":[1999.8,2026.2],"nice":false,"zero":false},"axis":{"values":[2000,2002.834,2004,2008,2008.3,2012,2013.765,2016,2019.291,2020,2024,2024.779],"labels":false,"title":null,"encode":{"ticks":{"update":{"y2":{"signal":"datum.value % 4 === 0 ? 4.9 : 2.8"}}}}}},"x2":{"field":"e"},"y":{"datum":0,"type":"quantitative","scale":{"domain":[-0.05,1.05],"nice":false,"zero":false},"axis":{"values":[0,1],"format":"d","title":null}},"color":{"datum":"MGMT_PESTICIDE_HERBICIDE_PARCEL-A","scale":{"range":["#d62728"]},"legend":{"orient":"bottom-left","title":null}}}},{"data":{"name":"d14"},"mark":{"type":"rule","strokeWidth":2.08},"encoding":{"x":{"field":"t","type":"quantitative"},"y":{"datum":0,"type":"quantitative"},"y2":{"datum":1},"color":{"datum":"MGMT_PESTICIDE_HERBICIDE_PARCEL-A"}}}]},
{"width":1550,"height":25,"layer":[{"data":{"values":[{"t":2001,"e":2025}]},"mark":{"type":"rule","strokeWidth":2.08},"encoding":{"x":{"field":"t","type":"quantitative","scale":{"domain":[1999.8,2026.2],"nice":false,"zero":false},"axis":{"values":[2000,2002.834,2004,2008,2008.3,2012,2013.765,2016,2019.291,2020,2024,2024.779],"labels":false,"title":null,"encode":{"ticks":{"update":{"y2":{"signal":"datum.value % 4 === 0 ? 4.9 : 2.8"}}}}}},"x2":{"field":"e"},"y":{"datum":0,"type":"quantitative","scale":{"domain":[-0.05,1.05],"nice":false,"zero":false},"axis":{"values":[0,1],"format":"d","title":null}},"color":{"datum":"MGMT_PESTICIDE_HERBICIDE_PARCEL-B","scale":{"range":["#9467bd"]},"legend":{"orient":"bottom-left","title":null}}}},{"data":{"name":"d15"},"mark":{"type":"rule","strokeWidth":2.08},"encoding":{"x":{"field":"t","type":"quantitative"},"y":{"datum":0,"type":"quantitative"},"y2":{"datum":1},"color":{"datum":"MGMT_PESTICIDE_HERBICIDE_PARCEL-B"}}}]},
{"width":1550,"height":25,"layer":[{"data":{"values":[{"t":2001,"e":2025}]},"mark":{"type":"rule","strokeWidth":2.08},"encoding":{"x":{"field":"t","type":"quantitative","scale":{"domain":[1999.8,2026.2],"nice":false,"zero":false},"axis":{"values":[2000,2002.834,2004,2008,2008.3,2012,2013.765,2016,2019.291,2020,2024,2024.779],"labels":false,"title":null,"encode":{"ticks":{"update":{"y2":{"signal":"datum.value % 4 === 0 ? 4.9 : 2.8"}}}}}},"x2":{"field":"e"},"y":{"datum":0,"type":"quantitative","scale":{"domain":[-0.05,1.05],"nice":false,"zero":false},"axis":{"values":[0,1],"format":"d","title":null}},"color":{"datum":"MGMT_SOILCULTIVATION","scale":{"range":["#8c564b"]},"legend":{"orient":"bottom-right","title":null}}}},{"data":{"name":"d16"},"mark":{"type":"rule","strokeWidth":2.08},"encoding":{"x":{"field":"t","type":"quantitative"},"y":{"datum":0,"type":"quantitative"},"y2":{"datum":1},"color":{"datum":"MGMT_SOILCULTIVATION"}}}]},
{"width":1550,"height":25,"layer":[{"data":{"values":[{"t":2001,"e":2025}]},"mark":{"type":"rule","strokeWidth":2.08},"encoding":{"x":{"field":"t","type":"quantitative","scale":{"domain":[1999.8,2026.2],"nice":false,"zero":false},"axis":{"values":[2000,2002.834,2004,2008,2008.3,2012,2013.765,2016,2019.291,2020,2024,2024.779],"labels":false,"title":null,"encode":{"ticks":{"update":{"y2":{"signal":"datum.value % 4 === 0 ? 4.9 : 2.8"}}}}}},"x2":{"field":"e"},"y":{"datum":0,"type":"quantitative","scale":{"domain":[-0.05,1.05],"nice":false,"zero":false},"axis":{"values":[0,1],"format":"d","title":null}},"color":{"datum":"MGMT_SOILCULTIVATION_PARCEL-A","scale":{"range":["#e377c2"]},"legend":{"orient":"bottom-left","title":null}}}},{"data":{"name":"d17"},"mark":{"type":"rule","strokeWidth":2.08},"encoding":{"x":{"field":"t","type":"quantitative"},"y":{"datum":0,"type":"quantitative"},"y2":{"datum":1},"color":{"datum":"MGMT_SOILCULTIVATION_PARCEL-A"}}}]},
{"width":1550,"height":25,"layer":[{"data":{"values":[{"t":2001,"e":2025}]},"mark":{"type":"rule","strokeWidth":2.08},"encoding":{"x":{"field":"t","type":"quantitative","scale":{"domain":[1999.8,2026.2],"nice":false,"zero":false},"axis":{"values":[2000,2002.834,2004,2008,2008.3,2012,2013.765,2016,2019.291,2020,2024,2024.779],"labels":false,"title":null,"encode":{"ticks":{"update":{"y2":{"signal":"datum.value % 4 === 0 ? 4.9 : 2.8"}}}}}},"x2":{"field":"e"},"y":{"datum":0,"type":"quantitative","scale":{"domain":[-0.05,1.05],"nice":false,"zero":false},"axis":{"values":[0,1],"format":"d","title":null}},"color":{"datum":"MGMT_SOILCULTIVATION_PARCEL-B","scale":{"range":["#7f7f7f"]},"legend":{"orient":"bottom-right","title":null}}}},{"data":{"name":"d18"},"mark":{"type":"rule","strokeWidth":2.08},"encoding":{"x":{"field":"t","type":"quantitative"},"y":{"datum":0,"type":"quantitative"},"y2":{"datum":1},"color":{"datum":"MGMT_SOILCULTIVATION_PARCEL-B"}}}]},
{"width":1550,"height":25,"layer":[{"data":{"values":[{"t":2001,"e":2025}]},"mark":{"type":"rule","strokeWidth":2.08},"encoding":{"x":{"field":"t","type":"quantitative","scale":{"domain":[1999.8,2026.2],"nice":false,"zero":false},"axis":{"values":[2000,2002.834,2004,2008,2008.3,2012,2013.765,2016,2019.291,2020,2024,2024.779],"labels":false,"title":null,"encode":{"ticks":{"update":{"y2":{"signal":"datum.value % 4 === 0 ? 4.9 : 2.8"}}}}}},"x2":{"field":"e"},"y":{"datum":0,"type":"quantitative","scale":{"domain":[-0.05,1.05],"nice":false,"zero":false},"axis":{"values":[0,1],"format":"d","title":null}},"color":{"datum":"MGMT_SOWING","scale":{"range":["#bcbd22"]},"legend":{"orient":"bottom-right","title":null}}}},{"data":{"name":"d19"},"mark":{"type":"rule","strokeWidth":2.08},"encoding":{"x":{"field":"t","type":"quantitative"},"y":{"datum":0,"type":"quantitative"},"y2":{"datum":1},"color":{"datum":"MGMT_SOWING"}}}]},
{"width":1550,"height":25,"layer":[{"data":{"values":[{"t":2001,"e":2025}]},"mark":{"type":"rule","strokeWidth":2.08},"encoding":{"x":{"field":"t","type":"quantitative","scale":{"domain":[1999.8,2026.2],"nice":false,"zero":false},"axis":{"values":[2000,2002.834,2004,2008,2008.3,2012,2013.765,2016,2019.291,2020,2024,2024.779],"labels":false,"title":null,"encode":{"ticks":{"update":{"y2":{"signal":"datum.value % 4 === 0 ? 4.9 : 2.8"}}}}}},"x2":{"field":"e"},"y":{"datum":0,"type":"quantitative","scale":{"domain":[-0.05,1.05],"nice":false,"zero":false},"axis":{"values":[0,1],"format":"d","title":null}},"color":{"datum":"MGMT_SOWING_PARCEL-A","scale":{"range":["#17becf"]},"legend":{"orient":"bottom-right","title":null}}}},{"data":{"name":"d20"},"mark":{"type":"rule","strokeWidth":2.08},"encoding":{"x":{"field":"t","type":"quantitative"},"y":{"datum":0,"type":"quantitative"},"y2":{"datum":1},"color":{"datum":"MGMT_SOWING_PARCEL-A"}}}]},
{"width":1550,"height":25,"layer":[{"data":{"values":[{"t":2001,"e":2025}]},"mark":{"type":"rule","strokeWidth":2.08},"encoding":{"x":{"field":"t","type":"quantitative","scale":{"domain":[1999.8,2026.2],"nice":false,"zero":false},"axis":{"values":[2000,2002.834,2004,2008,2008.3,2012,2013.765,2016,2019.291,2020,2024,2024.779],"format":"d","labelExpr":"datum.value % 4 === 0 ? datum.label : ''","labelAngle":-30,"labelAlign":"right","labelBaseline":"top","labelOffset":-8,"title":null,"encode":{"ticks":{"update":{"y2":{"signal":"datum.value % 4 === 0 ? 4.9 : 2.8"}}}}}},"x2":{"field":"e"},"y":{"datum":0,"type":"quantitative","scale":{"domain":[-0.05,1.05],"nice":false,"zero":false},"axis":{"values":[0,1],"format":"d","title":null}},"color":{"datum":"MGMT_SOWING_PARCEL-B","scale":{"range":["#1f77b4"]},"legend":{"orient":"bottom-right","title":null}}}},{"data":{"name":"d21"},"mark":{"type":"rule","strokeWidth":2.08},"encoding":{"x":{"field":"t","type":"quantitative"},"y":{"datum":0,"type":"quantitative"},"y2":{"datum":1},"color":{"datum":"MGMT_SOWING_PARCEL-B"}}}]}
]
}
